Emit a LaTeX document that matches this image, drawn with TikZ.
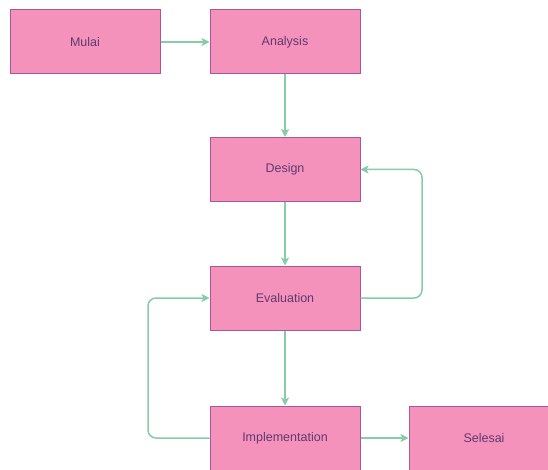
\documentclass[tikz,border=0pt]{standalone}
\usepackage{fontspec}
\setmainfont{Liberation Sans}
\usetikzlibrary{arrows.meta}
\definecolor{boxfill}{HTML}{F592BC}
\definecolor{boxline}{HTML}{A8589A}
\definecolor{boxtext}{HTML}{5E3A70}
\definecolor{arrowc}{HTML}{86CCA4}
\begin{document}
\begin{tikzpicture}[x=1pt,y=-1pt,
  stepbox/.style={draw=boxline, line width=1pt, fill=boxfill, minimum width=150pt, minimum height=64pt, inner sep=0pt, text=boxtext, font=\fontsize{12.5}{14}\selectfont},
  conn/.style={draw=arrowc, line width=1.5pt, -{Stealth[length=8pt,width=8pt,inset=2pt]}, rounded corners=8pt}]
\useasboundingbox (0,0) rectangle (548,470);
\clip (0,0) rectangle (548,470);
\node[stepbox] (mulai) at (85,42) {Mulai};
\node[stepbox] (analysis) at (285,42) {Analysis};
\node[stepbox] (design) at (285,169.5) {Design};
\node[stepbox] (eval) at (285,298) {Evaluation};
\node[stepbox] (impl) at (285,438) {Implementation};
\node[stepbox] (selesai) at (484,438) {Selesai};
\draw[conn] (mulai) -- (analysis);
\draw[conn] (analysis) -- (design);
\draw[conn] (design) -- (eval);
\draw[conn] (eval) -- (impl);
\draw[conn] (impl) -- (selesai);
\draw[conn] (eval.east) -- (422,298) -- (422,169.5) -- (design.east);
\draw[conn] (impl.west) -- (148,438) -- (148,298) -- (eval.west);
\end{tikzpicture}
\end{document}
